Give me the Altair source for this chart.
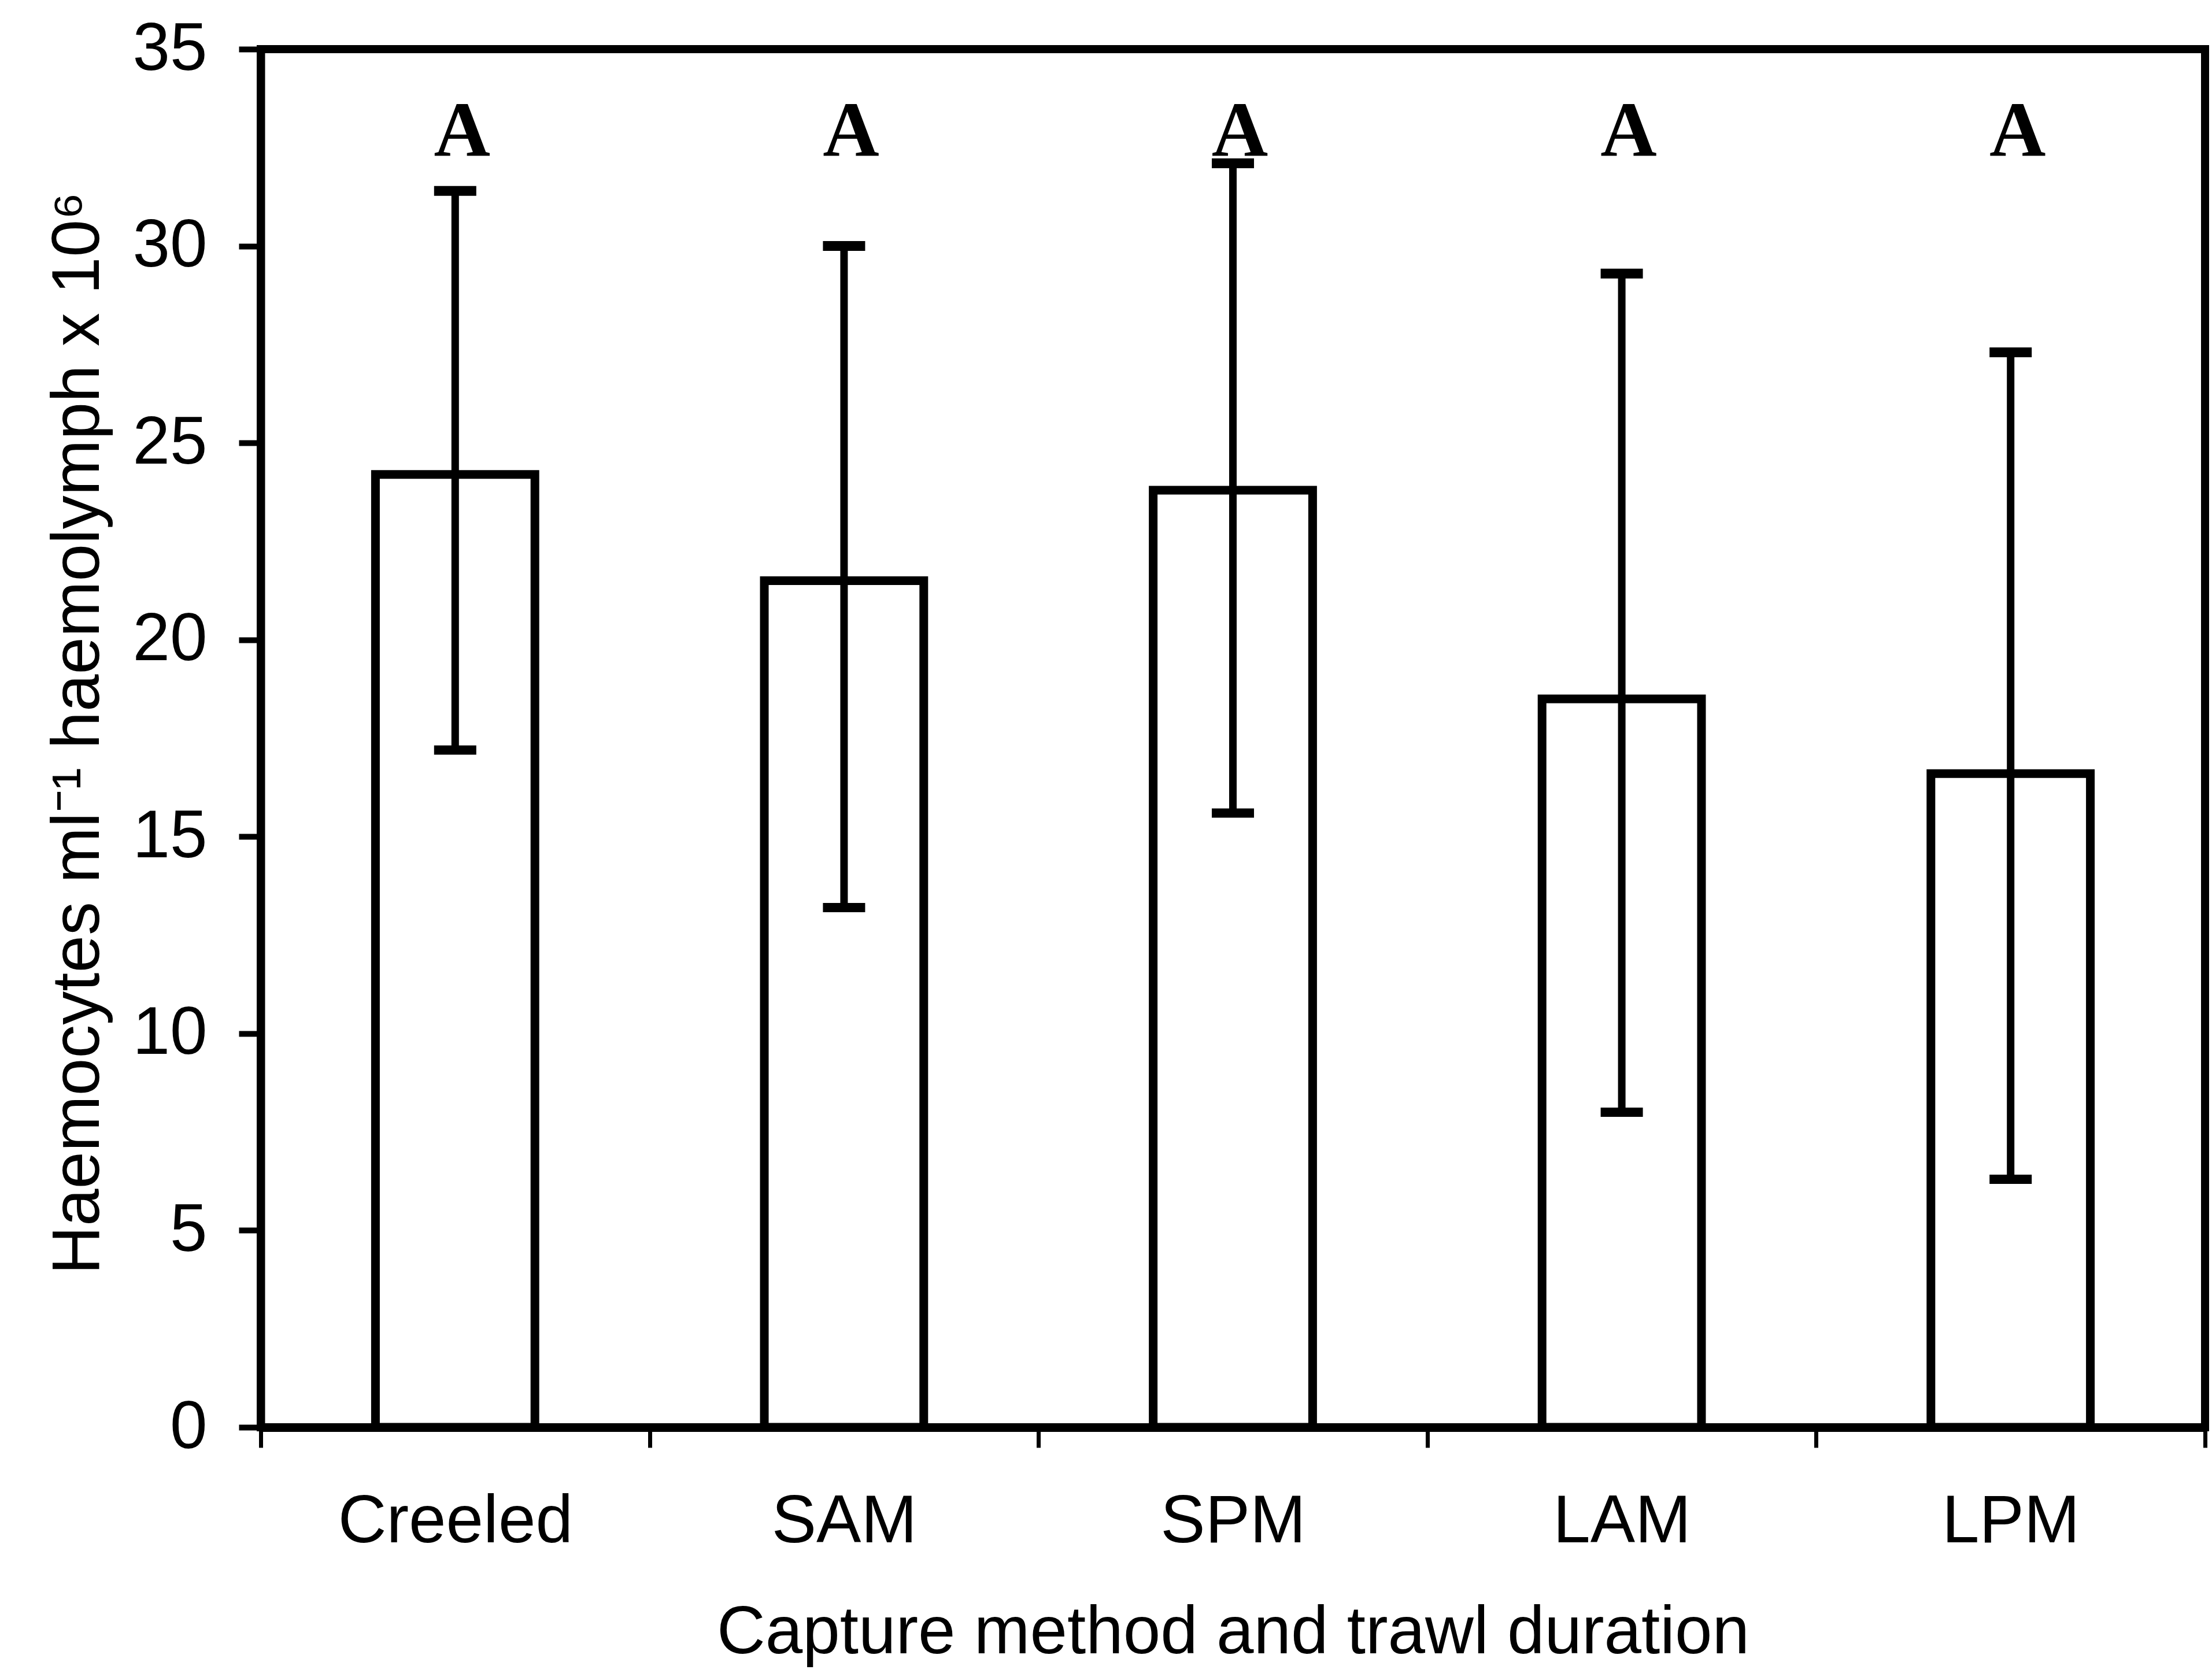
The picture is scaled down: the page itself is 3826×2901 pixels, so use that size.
import altair as alt
import pandas as pd

# Haemocyte counts by capture method / trawl duration (mean with error range)
groups = ["Creeled", "SAM", "SPM", "LAM", "LPM"]
means = [24.2, 21.5, 23.8, 18.5, 16.6]
upper = [31.4, 30.0, 32.1, 29.3, 27.3]
lower = [17.2, 13.2, 15.6, 8.0, 6.3]
letters = ["A", "A", "A", "A", "A"]

df = pd.DataFrame({
    "group": groups,
    "mean": means,
    "hi": upper,
    "lo": lower,
    "letter": letters,
})

SANS = "Liberation Sans"
SERIF = "Liberation Serif"
Y_TITLE = "Haemocytes ml\u207b\u00b9 haemolymph x 10\u2076"

x_enc = alt.X(
    "group:N",
    sort=groups,
    scale=alt.Scale(paddingInner=0, paddingOuter=0),
    axis=alt.Axis(
        title="Capture method and trawl duration",
        labelAngle=0,
        labelFont=SANS,
        labelFontSize=116,
        labelColor="black",
        labelBaseline="alphabetic",
        labelPadding=163,
        labelLimit=0,
        tickBand="extent",
        tickSize=35,
        tickWidth=7,
        tickColor="black",
        domainColor="black",
        domainWidth=15,
        titleFont=SANS,
        titleFontSize=116,
        titleFontWeight="normal",
        titleColor="black",
        titleBaseline="alphabetic",
        titleY=390,
        titleLimit=0,
        grid=False,
    ),
)

y_axis = alt.Axis(
    values=[0, 5, 10, 15, 20, 25, 30, 35],
    labelFont=SANS,
    labelFontSize=116,
    labelColor="black",
    labelPadding=55,
    tickSize=38,
    tickWidth=10,
    tickColor="black",
    domainColor="black",
    domainWidth=14,
    titleFont=SANS,
    titleFontSize=116,
    titleFontWeight="normal",
    titleColor="black",
    titleAngle=-90,
    titleAlign="center",
    titleBaseline="alphabetic",
    titleX=-281,
    titleY=1183,
    titleLimit=0,
    grid=False,
)
y_scale = alt.Scale(domain=[0, 35], nice=False, zero=True)

base = alt.Chart(df)

bars = base.mark_bar(
    width=alt.RelativeBandSize(0.41),
    fill="white",
    stroke="black",
    strokeWidth=15,
    opacity=1,
).encode(
    x=x_enc,
    y=alt.Y("mean:Q", scale=y_scale, axis=y_axis, title=Y_TITLE),
)

whiskers = base.mark_rule(color="black", strokeWidth=13, opacity=1).encode(
    x=x_enc,
    y=alt.Y("lo:Q", scale=y_scale, axis=y_axis, title=Y_TITLE),
    y2="hi:Q",
)

caps_hi = base.mark_tick(
    color="black", size=73, thickness=17, orient="horizontal", opacity=1
).encode(
    x=x_enc,
    y=alt.Y("hi:Q", scale=y_scale, axis=y_axis, title=Y_TITLE),
)

caps_lo = base.mark_tick(
    color="black", size=73, thickness=16, orient="horizontal", opacity=1
).encode(
    x=x_enc,
    y=alt.Y("lo:Q", scale=y_scale, axis=y_axis, title=Y_TITLE),
)

marks = base.mark_text(
    font=SERIF,
    fontSize=135,
    fontWeight="bold",
    color="black",
    baseline="alphabetic",
    align="center",
    dx=12,
).encode(
    x=x_enc,
    y=alt.value(185),
    text="letter:N",
)

chart = (
    alt.layer(bars, whiskers, caps_hi, caps_lo, marks)
    .properties(
        width=3363,
        height=2384,
        padding={"left": 451, "top": 85, "right": 12, "bottom": 432},
        autosize=alt.AutoSizeParams(type="none"),
        background="white",
    )
    .configure_view(stroke="black", strokeWidth=14)
)

chart.save("out.html", embed_options={"renderer": "svg", "actions": False})
